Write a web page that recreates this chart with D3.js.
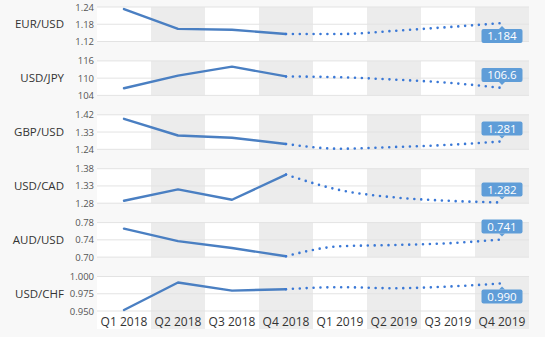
<!DOCTYPE html>
<html><head><meta charset="utf-8">
<script src="https://cdn.jsdelivr.net/npm/d3@7"></script>
<style>
html,body{margin:0;padding:0;background:#f8f8f8;}
svg{display:block;font-family:"Open Sans",sans-serif;}
</style></head>
<body>
<svg id="chart" width="545" height="337"></svg>
<script>
const quarters = ["Q1 2018","Q2 2018","Q3 2018","Q4 2018","Q1 2019","Q2 2019","Q3 2019","Q4 2019"];
const pairs = ["EUR/USD","USD/JPY","GBP/USD","USD/CAD","AUD/USD","USD/CHF"];
// actual values Q1 2018 .. Q4 2018
const eurActual = [1.233,1.164,1.161,1.146];
const jpyActual = [106.5,110.9,114.0,110.6];
const gbpActual = [1.399,1.312,1.300,1.268];
const cadActual = [1.287,1.320,1.290,1.363];
const audActual = [0.766,0.737,0.721,0.702];
const chfActual = [0.9515,0.9913,0.9796,0.9816];
// forecast Q4 2018 .. Q4 2019
const eurForecast = [1.146,1.146,1.157,1.170,1.184];
const jpyForecast = [110.6,110.3,109.5,108.4,106.6];
const gbpForecast = [1.268,1.243,1.252,1.263,1.281];
const cadForecast = [1.363,1.318,1.297,1.287,1.282];
const audForecast = [0.702,0.725,0.728,0.732,0.741];
const chfForecast = [0.9816,0.9845,0.983,0.9854,0.990];
const forecastLabels = ["1.184","106.6","1.281","1.282","0.741","0.990"];
// tick values
const eurTicks = [1.12,1.18,1.24];
const jpyTicks = [104,110,116];
const gbpTicks = [1.24,1.33,1.42];
const cadTicks = [1.28,1.33,1.38];
const audTicks = [0.70,0.74,0.78];
const chfTicks = [0.950,0.975,1.000];
const tickFormats = [".2f","d",".2f",".2f",".2f",".3f"];

const actuals = [eurActual,jpyActual,gbpActual,cadActual,audActual,chfActual];
const forecasts = [eurForecast,jpyForecast,gbpForecast,cadForecast,audForecast,chfForecast];
const ticks = [eurTicks,jpyTicks,gbpTicks,cadTicks,audTicks,chfTicks];
const labelPlace = ["below","above","above","above","above","below"];

const svg = d3.select("#chart");
const x = d3.scaleBand().domain(quarters).range([97,529]).padding(0);
const panelTop0 = 7, panelStep = 53.9, panelH = 34.5;
const lineColor = "#4a7fc2", dotColor = "#3a78d6", boxColor = "#5f9dd8";

// column bands
pairs.forEach((p,i)=>{
  const top = panelTop0 + i*panelStep;
  const bottom = i===pairs.length-1 ? 329 : top+panelH;
  const g = svg.append("g");
  g.selectAll("rect").data(quarters).join("rect")
    .attr("x",d=>x(d)).attr("width",x.bandwidth())
    .attr("y",top).attr("height",bottom-top)
    .attr("fill",(d,j)=> j%2===1 ? "#ececec" : "#ffffff");
});

pairs.forEach((p,i)=>{
  const top = panelTop0 + i*panelStep;
  const bottom = top+panelH;
  const t = ticks[i];
  const y = d3.scaleLinear().domain([t[0],t[t.length-1]]).range([bottom,top]);
  const g = svg.append("g");
  // grid
  g.selectAll("line.grid").data(t).join("line")
    .attr("x1",97).attr("x2",529)
    .attr("y1",d=>y(d)).attr("y2",d=>y(d))
    .attr("stroke","#e3e3e3").attr("stroke-width",1);
  // axis
  const ax = g.append("g").attr("transform","translate(97,0)")
    .call(d3.axisLeft(y).tickValues(t).tickFormat(d3.format(tickFormats[i])).tickSize(0).tickPadding(3));
  ax.select(".domain").remove();
  ax.selectAll("text").attr("font-size","9.5px").attr("fill","#555").attr("font-family","'Open Sans',sans-serif");
  // series label
  g.append("text").attr("x",64).attr("y",(top+bottom)/2).attr("dy","0.35em")
    .attr("text-anchor","end").attr("font-size","11.5px").attr("fill","#333").text(p);
  // actual line
  const cx = d=>x(d)+x.bandwidth()/2;
  const act = actuals[i].map((v,j)=>({q:quarters[j],v}));
  const fc = forecasts[i].map((v,j)=>({q:quarters[j+3],v}));
  g.append("path").datum(act)
    .attr("d",d3.line().x(d=>cx(d.q)).y(d=>y(d.v)))
    .attr("fill","none").attr("stroke",lineColor).attr("stroke-width",2.4)
    .attr("stroke-linejoin","round").attr("stroke-linecap","round");
  g.append("path").datum(fc)
    .attr("d",d3.line().curve(d3.curveMonotoneX).x(d=>cx(d.q)).y(d=>y(d.v)))
    .attr("fill","none").attr("stroke",dotColor).attr("stroke-width",2.6)
    .attr("stroke-dasharray","0,6.9").attr("stroke-linecap","round")
    .attr("stroke-dashoffset",-6.9);
  // label
  const last = fc[fc.length-1];
  const px = cx(last.q), py = y(last.v);
  const bw = 41, bh = 14, gap = 6;
  const by = labelPlace[i]==="below" ? py+gap : py-gap-bh;
  const lg = g.append("g");
  lg.append("rect").attr("x",px-bw/2).attr("y",by).attr("width",bw).attr("height",bh)
    .attr("rx",2).attr("fill",boxColor);
  const tipY = labelPlace[i]==="below" ? by : by+bh;
  const dir = labelPlace[i]==="below" ? -1 : 1;
  lg.append("path").attr("d",`M${px-3},${tipY} L${px},${tipY+dir*3} L${px+3},${tipY} Z`).attr("fill",boxColor);
  lg.append("text").attr("x",px).attr("y",by+bh/2).attr("dy","0.36em").attr("text-anchor","middle")
    .attr("font-size","11.5px").attr("fill","#fff").text(forecastLabels[i]);
});

// x axis labels
svg.append("g").selectAll("text").data(quarters).join("text")
  .attr("x",d=>x(d)+x.bandwidth()/2).attr("y",326)
  .attr("text-anchor","middle").attr("font-size","12px").attr("fill","#333").text(d=>d);
</script>
</body></html>
